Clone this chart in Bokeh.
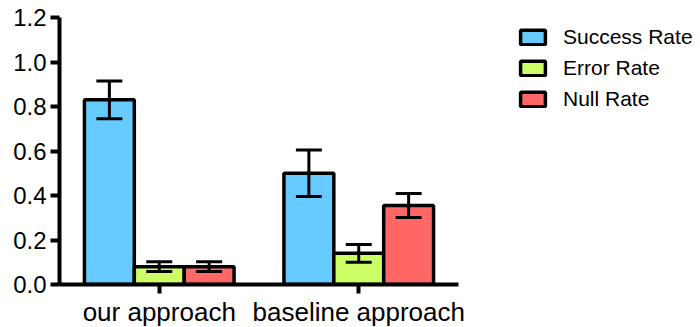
from bokeh.plotting import figure
from bokeh.models import (ColumnDataSource, FactorRange, Range1d, Whisker, TeeHead, Legend,
                          LegendItem, FixedTicker, CustomJSTickFormatter)
from bokeh.transform import dodge
from bokeh.embed import file_html
from bokeh.resources import INLINE

categories = ["our approach", "baseline approach"]
series = ["Success Rate", "Error Rate", "Null Rate"]
success = [0.83, 0.50]
success_err = [0.085, 0.105]
error = [0.08, 0.14]
error_err = [0.022, 0.04]
null = [0.08, 0.355]
null_err = [0.022, 0.054]
y_ticks = [0.0, 0.2, 0.4, 0.6, 0.8, 1.0, 1.2]

colors = ["#66CCFF", "#CCFF66", "#FF6666"]
offsets = [-0.25, 0.0, 0.25]
values = [success, error, null]
errs = [success_err, error_err, null_err]

FONT = "Liberation Sans"

p = figure(x_range=FactorRange(*categories, range_padding=0), y_range=Range1d(0, 1.2),
           width=700, height=327, output_backend="svg", toolbar_location=None,
           min_border_left=59, min_border_top=17, min_border_bottom=43, min_border_right=0,
           frame_width=399, frame_height=267)

items = []
for name, vals, err, col, off in zip(series, values, errs, colors, offsets):
    src = ColumnDataSource(dict(cat=categories, val=vals,
                                upper=[v + e for v, e in zip(vals, err)],
                                lower=[v - e for v, e in zip(vals, err)]))
    r = p.vbar(x=dodge("cat", off, range=p.x_range), top="val", width=0.25, bottom=0,
               source=src, fill_color=col, line_color="black", line_width=3.5)
    w = Whisker(base=dodge("cat", off, range=p.x_range), upper="upper", lower="lower", source=src,
                line_color="black", line_width=3, level="overlay",
                upper_head=TeeHead(size=26, line_width=3, line_color="black"),
                lower_head=TeeHead(size=26, line_width=3, line_color="black"))
    p.add_layout(w)
    items.append(LegendItem(label=name, renderers=[r]))

legend = Legend(items=items, location=(59, 173), label_text_font=FONT, label_text_font_size="21px",
                label_text_color="black", glyph_width=31, glyph_height=18, label_height=24,
                spacing=7, label_standoff=15, border_line_alpha=0, background_fill_alpha=0,
                padding=0, margin=0)
p.add_layout(legend, "right")
p.min_border_right = 242

p.grid.visible = False
p.outline_line_color = None

p.yaxis.ticker = FixedTicker(ticks=y_ticks)
p.yaxis.formatter = CustomJSTickFormatter(code="return tick.toFixed(1);")

for ax in (p.xaxis[0], p.yaxis[0]):
    ax.axis_line_width = 4
    ax.axis_line_color = "black"
    ax.major_tick_line_width = 4
    ax.major_tick_line_color = "black"
    ax.major_tick_out = 9
    ax.major_tick_in = 0
    ax.minor_tick_line_color = None
    ax.major_label_text_font = FONT
    ax.major_label_text_color = "black"
p.yaxis.major_label_text_font_size = "24px"
p.xaxis.major_label_text_font_size = "26px"
p.yaxis.major_label_standoff = 4
p.xaxis.major_label_standoff = 3

open("out.html", "w").write(file_html(p, INLINE))
